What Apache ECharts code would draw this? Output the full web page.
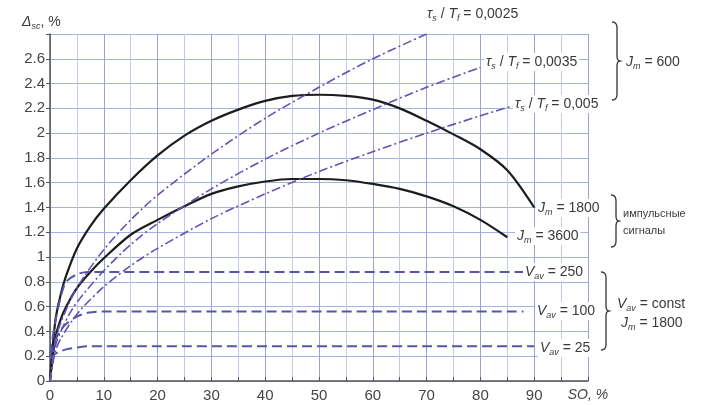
<!DOCTYPE html>
<html><head><meta charset="utf-8">
<script src="https://cdn.jsdelivr.net/npm/echarts@6/dist/echarts.min.js"></script>
<style>html,body{margin:0;padding:0;background:#fff}#c{width:708px;height:405px}</style>
</head><body><div id="c"></div>
<script>
// ---- data ----
const j1800X = [0,1,2,3,5,7.5,10,15,20,25,30,35,40,45,50,55,60,65,70,75,80,85,90];
const j1800Y = [0,0.49,0.70,0.85,1.07,1.25,1.39,1.62,1.82,1.98,2.10,2.19,2.26,2.30,2.31,2.30,2.27,2.20,2.10,1.99,1.87,1.70,1.40];
const j3600X = [0,1,2,3,5,7.5,10,15,20,25,30,35,40,45,50,55,60,65,70,75,80,85];
const j3600Y = [0,0.35,0.50,0.60,0.75,0.88,0.99,1.18,1.30,1.41,1.51,1.57,1.61,1.63,1.63,1.62,1.59,1.55,1.49,1.41,1.30,1.16];
const tau0025X = [0,1,2,4,6,10,15,20,30,40,50,60,70];
const tau0025Y = [0,0.33,0.47,0.67,0.82,1.06,1.30,1.50,1.83,2.12,2.37,2.60,2.80];
const tau0035X = [0,1,2,4,6,10,15,20,30,40,50,60,70,80];
const tau0035Y = [0,0.28,0.40,0.57,0.69,0.89,1.10,1.27,1.55,1.79,2.00,2.19,2.37,2.53];
const tau005X = [0,1,2,4,6,10,15,20,30,40,50,60,70,80,86];
const tau005Y = [0,0.24,0.34,0.48,0.59,0.76,0.93,1.07,1.31,1.51,1.69,1.85,2.00,2.14,2.22];
const v250X = [0,1,2,3,5,7,88];
const v250Y = [0.22,0.48,0.68,0.80,0.86,0.88,0.88];
const v100X = [0,1,2,3,5,7,10,88];
const v100Y = [0.20,0.33,0.41,0.46,0.52,0.55,0.56,0.56];
const v25X = [0,1,2,3,5,7,90];
const v25Y = [0.18,0.22,0.24,0.255,0.27,0.28,0.28];
const xTickLabels = ['0','10','20','30','40','50','60','70','80','90','SO, %'];

const pairs = (xs, ys) => xs.map((x, i) => [x, ys[i]]);
const FONT = 'Liberation Sans, Arial, sans-serif';
const TXT = '#3a3a3a';
const black = '#1c1c1c', dashDotCol = '#6651b3', dashCol = '#5656a8';

const rich = {
  t: {fontSize: 14, fontStyle: 'italic', fontFamily: FONT, fill: TXT, color: TXT, lineHeight: 18},
  n: {fontSize: 14, fontFamily: FONT, fill: TXT, color: TXT, lineHeight: 18},
  s: {fontSize: 9, fontStyle: 'italic', fontFamily: FONT, fill: TXT, color: TXT, lineHeight: 10, verticalAlign: 'bottom'},
  r: {fontSize: 11, fontFamily: FONT, fill: TXT, color: TXT, lineHeight: 16}
};
function label(x, y, text) {
  return {type: 'text', x: x, y: y, z: 100,
    style: {text: text, rich: rich, align: 'left', verticalAlign: 'middle', textAlign: 'left', textVerticalAlign: 'middle',
      fill: TXT, font: '14px ' + FONT, backgroundColor: '#fff', padding: [0, 2, 0, 2]}};
}
function quad(p0, p1, p2, n) {
  const out = [];
  for (let i = 0; i <= n; i++) {
    const t = i / n, a = (1 - t) * (1 - t), b = 2 * (1 - t) * t, c = t * t;
    out.push([a * p0[0] + b * p1[0] + c * p2[0], a * p0[1] + b * p1[1] + c * p2[1]]);
  }
  return out;
}
function brace(x, y1, y2) {
  const ym = (y1 + y2) / 2, w = 5;
  const pts = [].concat(
    quad([x, y1], [x + w, y1], [x + w, y1 + 6], 6),
    quad([x + w, ym - 5], [x + w, ym], [x + w + 3, ym], 4),
    quad([x + w + 3, ym], [x + w, ym], [x + w, ym + 5], 4),
    quad([x + w, y2 - 6], [x + w, y2], [x, y2], 6)
  );
  return {type: 'polyline', z: 100, shape: {points: pts}, style: {fill: null, stroke: '#333', lineWidth: 1.3}};
}

function line(name, data, color, width, type) {
  return {name, type: 'line', data, showSymbol: false, smooth: 0.3,
    lineStyle: {color, width, type}, silent: true, animation: false};
}

const chart = echarts.init(document.getElementById('c'), null, {renderer: 'canvas'});
chart.setOption({
  animation: false,
  backgroundColor: '#fff',
  grid: {left: 50, right: 120, top: 34, bottom: 24, containLabel: false},
  xAxis: {
    type: 'value', min: 0, max: 100, interval: 10,
    axisLine: {onZero: false, lineStyle: {color: '#555', width: 1.5}},
    axisTick: {show: true, inside: true, length: 4, lineStyle: {color: '#555'}},
    minorTick: {show: true, splitNumber: 2, length: 4, lineStyle: {color: '#555'}},
    axisLabel: {margin: 7, fontSize: 15, fontFamily: FONT, color: '#444',
      formatter: (v) => { const s = xTickLabels[Math.round(v / 10)]; return v === 100 ? '{i|' + s + '}' : s; },
      rich: {i: {fontSize: 14, fontStyle: 'italic', fontFamily: FONT, color: '#444'}}},
    splitLine: {show: true, lineStyle: {color: '#97a3d6', width: 1}},
    minorSplitLine: {show: true, lineStyle: {color: '#c3cae8', width: 1}}
  },
  yAxis: {
    type: 'value', min: 0, max: 2.8, interval: 0.2,
    axisLine: {show: true, onZero: false, lineStyle: {color: '#555', width: 1.5}},
    axisTick: {show: true, length: 4, lineStyle: {color: '#555'}},
    axisLabel: {margin: 5, fontSize: 15, fontFamily: FONT, color: '#444',
      formatter: (v) => Math.abs(v - 2.8) < 1e-6 ? '' : String(+v.toFixed(1))},
    splitLine: {show: true, lineStyle: {color: '#a7b1de', width: 1}}
  },
  series: [
    line('J1800', pairs(j1800X, j1800Y), black, 2.2, 'solid'),
    line('J3600', pairs(j3600X, j3600Y), black, 2.2, 'solid'),
    line('tau0025', pairs(tau0025X, tau0025Y), dashDotCol, 1.6, [9, 3, 2, 3]),
    line('tau0035', pairs(tau0035X, tau0035Y), dashDotCol, 1.6, [9, 3, 2, 3]),
    line('tau005', pairs(tau005X, tau005Y), dashDotCol, 1.6, [9, 3, 2, 3]),
    line('V250', pairs(v250X, v250Y), dashCol, 2, [10, 5]),
    line('V100', pairs(v100X, v100Y), dashCol, 2, [10, 5]),
    line('V25', pairs(v25X, v25Y), dashCol, 2, [10, 5])
  ],
  graphic: [
    label(20, 22, '{t|Δ}{s|sc}{n|, %}'),
    label(425, 14, '{t|τ}{s|s}{n| / }{t|T}{s|f}{n| = 0,0025}'),
    label(484, 62, '{t|τ}{s|s}{n| / }{t|T}{s|f}{n| = 0,0035}'),
    label(513, 104, '{t|τ}{s|s}{n| / }{t|T}{s|f}{n| = 0,005}'),
    brace(612, 22, 100),
    label(624, 62, '{t|J}{s|m}{n| = 600}'),
    label(536, 208, '{t|J}{s|m}{n| = 1800}'),
    label(515, 236, '{t|J}{s|m}{n| = 3600}'),
    brace(611, 195, 247),
    label(621, 214, '{r|импульсные}'),
    label(621, 231, '{r|сигналы}'),
    label(523, 272, '{t|V}{s|av}{n| = 250}'),
    label(535, 311, '{t|V}{s|av}{n| = 100}'),
    label(538, 348, '{t|V}{s|av}{n| = 25}'),
    brace(601, 272, 350),
    label(615, 304, '{t|V}{s|av}{n| = const}'),
    label(619, 323, '{t|J}{s|m}{n| = 1800}')
  ]
});
</script></body></html>
